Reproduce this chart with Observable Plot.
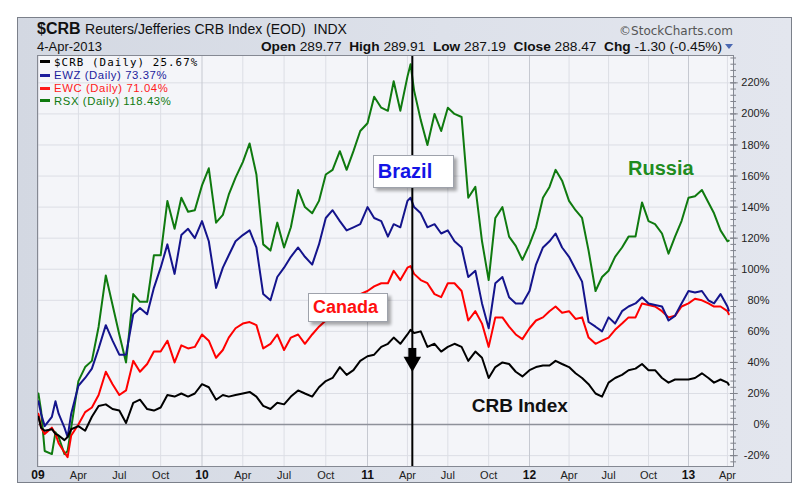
<!DOCTYPE html>
<html>
<head>
<meta charset="utf-8">
<script src="https://cdn.jsdelivr.net/npm/d3@7"></script>
<script src="https://cdn.jsdelivr.net/npm/@observablehq/plot@0.6"></script>
<style>
  html, body { margin: 0; padding: 0; background: #ffffff; }
  body { width: 806px; height: 501px; overflow: hidden; position: relative; font-family: "Liberation Sans", Arial, sans-serif; }
  #panel { position: absolute; left: 17px; top: 17px; width: 773px; height: 464px; border: 1px solid #7b808a;
           background: linear-gradient(90deg, #d3d8e2 0%, #dde1ea 55%, #e3e6ee 100%); }
  #chart { position: absolute; left: 0; top: 0; }
  .hdr { position: absolute; white-space: nowrap; color: #111; }
  .legend { position: absolute; left: 40px; top: 56.5px; }
  .legend div { height: 12.8px; line-height: 12.8px; font-size: 11.3px; letter-spacing: 0.6px; white-space: nowrap; }
  .legend .dash { display: inline-block; width: 10px; height: 3px; vertical-align: middle; margin-right: 4px; margin-top: -2px; }
  .ann { position: absolute; white-space: nowrap; font-weight: bold; font-family: "Liberation Sans", Arial, sans-serif; }
  .ann.box { box-sizing: border-box; background: #ffffff; border: 1px solid #9ea2ab; box-shadow: 3px 3px 3px rgba(0,0,0,0.32);
             display: flex; align-items: center; padding-left: 4px; }
  .tri { display: inline-block; width: 0; height: 0; border-left: 4px solid transparent; border-right: 4px solid transparent;
         border-top: 5px solid #4a68b2; margin-left: 3px; vertical-align: middle; }
</style>
</head>
<body>
<div id="panel"></div>
<div id="chart"></div>
<script>
// ---------------- DATA ----------------
const dates = [
  "2009-01-02","2009-01-08","2009-01-16","2009-02-01","2009-02-09","2009-02-16","2009-03-01","2009-03-08","2009-03-16","2009-04-01",
  "2009-04-16","2009-05-01","2009-05-16","2009-06-01","2009-06-16","2009-07-01","2009-07-16","2009-08-01","2009-08-16","2009-09-01",
  "2009-09-16","2009-10-01","2009-10-16","2009-11-01","2009-11-16","2009-12-01","2009-12-16",
  "2010-01-01","2010-01-16","2010-02-01","2010-02-16","2010-03-01","2010-03-16","2010-04-01","2010-04-16","2010-05-01","2010-05-16",
  "2010-06-01","2010-06-16","2010-07-01","2010-07-16","2010-08-01","2010-08-16","2010-09-01","2010-09-16","2010-10-01","2010-10-16",
  "2010-11-01","2010-11-16","2010-12-01","2010-12-16",
  "2011-01-01","2011-01-16","2011-02-01","2011-02-16","2011-03-01","2011-03-16","2011-04-01","2011-04-08","2011-04-16","2011-05-01",
  "2011-05-16","2011-06-01","2011-06-16","2011-07-01","2011-07-16","2011-08-01","2011-08-16","2011-09-01","2011-09-16","2011-10-01",
  "2011-10-16","2011-11-01","2011-11-16","2011-12-01","2011-12-16",
  "2012-01-01","2012-01-16","2012-02-01","2012-02-16","2012-03-01","2012-03-16","2012-04-01","2012-04-16","2012-05-01","2012-05-16",
  "2012-06-01","2012-06-16","2012-07-01","2012-07-16","2012-08-01","2012-08-16","2012-09-01","2012-09-16","2012-10-01","2012-10-16",
  "2012-11-01","2012-11-16","2012-12-01","2012-12-16",
  "2013-01-01","2013-01-16","2013-02-01","2013-02-16","2013-03-01","2013-03-16","2013-04-01","2013-04-04"
];

const crb = [
  5, -2, -4, -3, -6, -7, -10, -8, -3, -1, -4, 5, 12, 13, 10, 9, 1, 14, 16, 10, 9, 11, 19, 18, 20, 18, 20,
  26, 24, 16, 19, 18, 19, 20, 21, 18, 12, 10, 14, 13, 18, 22, 20, 18, 24, 28, 30, 37, 32, 35, 41,
  44, 45, 50, 52, 56, 52, 58, 61, 59, 60, 50, 52, 47, 50, 52, 50, 41, 47, 43, 30, 37, 40, 39, 34, 31,
  35, 37, 38, 38, 41, 39, 37, 33, 30, 26, 20, 18, 27, 30, 32, 35, 36, 39, 35, 35, 30, 27, 29, 29,
  29, 30, 33, 30, 27, 29, 27, 25.67
];
const ewz = [
  15, 7, -1, 5, 15, 7, -2, -8, 7, 25, 30, 36, 49, 64, 54, 45, 45, 71, 75, 71, 88, 101, 116, 97, 122, 126, 120,
  131, 118, 88, 101, 109, 118, 122, 125, 114, 84, 80, 95, 101, 108, 114, 108, 103, 116, 133, 138, 131, 125, 127, 129,
  140, 133, 131, 121, 129, 127, 144, 146, 140, 136, 127, 129, 123, 125, 118, 114, 95, 99, 78, 62, 91, 95, 82, 78, 78,
  86, 103, 114, 118, 123, 114, 108, 100, 92, 66, 63, 60, 69, 65, 73, 76, 78, 82, 78, 77, 76, 67, 70, 78,
  86, 85, 86, 80, 78, 84, 76, 73.37
];
const ewc = [
  7, -2, -6, -2, -6, -12, -18, -21, -7, 0, 8, 11, 19, 34, 26, 19, 22, 41, 34, 39, 47, 47, 54, 40, 51, 49, 50,
  58, 54, 43, 48, 56, 62, 65, 66, 64, 49, 52, 58, 48, 56, 58, 52, 58, 63, 67, 73, 80, 78, 82, 84,
  86, 89, 91, 91, 99, 93, 101, 102, 97, 93, 91, 84, 82, 91, 91, 86, 67, 73, 65, 50, 69, 69, 63, 58, 55,
  62, 67, 69, 73, 76, 72, 73, 68, 69, 56, 52, 54, 56, 61, 65, 69, 69, 78, 77, 76, 73, 69, 70, 76,
  78, 81, 80, 78, 76, 76, 73, 71.04
];
const rsx = [
  20, 9, -17, -19, -5, -8, -19, -17, -2, 28, 37, 41, 63, 96, 77, 58, 40, 84, 79, 79, 109, 109, 144, 126, 146, 137, 138,
  154, 165, 130, 135, 148, 159, 169, 181, 161, 116, 112, 130, 114, 127, 151, 140, 136, 144, 161, 164, 176, 164, 176, 189,
  194, 211, 204, 202, 221, 202, 224, 232, 215, 196, 180, 200, 189, 204, 200, 198, 146, 153, 118, 93, 133, 140, 121, 115, 106,
  116, 127, 146, 153, 164, 157, 144, 138, 133, 112, 86, 95, 99, 108, 114, 121, 121, 143, 131, 129, 123, 110, 121, 131,
  146, 147, 151, 143, 136, 125, 118, 118.43
];

const seriesNames = ["$CRB", "EWZ", "EWC", "RSX"];
const legendLabels = ["$CRB (Daily) 25.67%", "EWZ (Daily) 73.37%", "EWC (Daily) 71.04%", "RSX (Daily) 118.43%"];

const yTicks = [-20, 0, 20, 40, 60, 80, 100, 120, 140, 160, 180, 200, 220];
const yMinorTicks = d3.range(-24, 237, 4);
const quarterTicks = [
  "2009-01-01","2009-04-01","2009-07-01","2009-10-01","2010-01-01","2010-04-01","2010-07-01","2010-10-01",
  "2011-01-01","2011-04-01","2011-07-01","2011-10-01","2012-01-01","2012-04-01","2012-07-01","2012-10-01",
  "2013-01-01","2013-04-01"
];
const quarterLabels = ["09","Apr","Jul","Oct","10","Apr","Jul","Oct","11","Apr","Jul","Oct","12","Apr","Jul","Oct","13","Apr"];

const markerDate = "2011-04-12";
const arrowShaft = [49, 42.5];
const arrowHead = 40.4;

const annotations = [
  { text: "Brazil", date: "2011-01-14", value: 173.2, color: "#1414e6", size: 20, box: true, w: 81, h: 33 },
  { text: "Canada", date: "2010-08-24", value: 84.4, color: "#ff1010", size: 18, box: true, w: 80, h: 29 },
  { text: "Russia", date: "2012-08-16", value: 164.8, color: "#1f8c1f", size: 20, box: false },
  { text: "CRB Index", date: "2011-08-25", value: 12.2, color: "#111111", size: 19, box: false }
];

// ---------------- STYLE ----------------
const colors = { "$CRB": "#000000", "EWZ": "#14148c", "EWC": "#ff0000", "RSX": "#0f7a0f" };
const legendColors = ["#000000", "#1c1c9c", "#ff1a1a", "#0f7a0f"];

// x scale break points (piecewise, trading-day style spacing)
const xBreaks = ["2008-12-31", "2010-01-01", "2011-01-01", "2012-01-01", "2013-01-01", "2013-04-15"];
const xBreakPx = [37, 201.5, 367, 529, 688, 733];

// ---------------- BUILD ----------------
const valuesBySeries = { "$CRB": crb, "EWZ": ewz, "EWC": ewc, "RSX": rsx };
const rows = [];
for (const s of seriesNames) {
  valuesBySeries[s].forEach((v, i) => rows.push({ series: s, date: new Date(dates[i]), value: v }));
}
const drawOrder = ["RSX", "EWC", "EWZ", "$CRB"];
const qDates = quarterTicks.map(d => new Date(d));
const isYear = d => d.getUTCMonth() === 0;

const chart = Plot.plot({
  width: 806,
  height: 501,
  marginLeft: 37,
  marginRight: 73,
  marginTop: 55,
  marginBottom: 35,
  style: { background: "transparent", fontFamily: "Liberation Sans, Arial, sans-serif", overflow: "visible" },
  x: { type: "utc", domain: xBreaks.map(d => new Date(d)), range: xBreakPx, axis: null },
  y: { domain: [-27, 237.6], axis: null },
  marks: [
    Plot.frame({ fill: "#f4f5f9" }),
    Plot.ruleY(yTicks, { stroke: "#dcdee5", strokeWidth: 1 }),
    Plot.ruleX(qDates.filter(d => !isYear(d)), { stroke: "#dcdee5", strokeWidth: 1 }),
    Plot.ruleX(qDates.filter(isYear), { stroke: "#c6c9d1", strokeWidth: 1 }),
    Plot.ruleY([0], { stroke: "#8e919a", strokeWidth: 1.5 }),
    ...drawOrder.map(s => Plot.line(rows.filter(r => r.series === s), {
      x: "date", y: "value", stroke: colors[s], strokeWidth: 2, strokeLinejoin: "round"
    })),
    Plot.ruleX([new Date(markerDate)], { stroke: "#000", strokeWidth: 2 }),
    Plot.ruleX([new Date(markerDate)], { y1: arrowShaft[0], y2: arrowShaft[1], stroke: "#000", strokeWidth: 8 }),
    Plot.dot([new Date(markerDate)], { x: d => d, y: () => arrowHead, symbol: "triangle", rotate: 180, r: 6.5, fill: "#000", stroke: "none" }),
    Plot.frame({ stroke: "#858993", strokeWidth: 1 }),
    Plot.ruleY(yMinorTicks, { x1: new Date("2013-04-09"), x2: new Date("2013-04-22"), stroke: "#80838c", strokeWidth: 1 }),
    Plot.ruleY(yTicks, { x1: new Date("2013-04-08"), x2: new Date("2013-04-26"), stroke: "#80838c", strokeWidth: 1 }),
    Plot.text(yTicks, { y: d => d, text: d => `${d}%`, frameAnchor: "right", dx: 36, textAnchor: "end", fontSize: 11, fill: "#222" }),
    Plot.text(qDates.map((d, i) => ({ d, t: quarterLabels[i] })).filter(o => !isYear(o.d)),
      { x: "d", text: "t", frameAnchor: "bottom", dy: 12, fontSize: 11, fill: "#222" }),
    Plot.text(qDates.map((d, i) => ({ d, t: quarterLabels[i] })).filter(o => isYear(o.d)),
      { x: "d", text: "t", frameAnchor: "bottom", dy: 12, fontSize: 12, fontWeight: "bold", fill: "#111" })
  ]
});
document.getElementById("chart").appendChild(chart);

// ---------------- HEADER (HTML) ----------------
function addDiv(html, style) {
  const el = document.createElement("div");
  el.className = "hdr";
  el.innerHTML = html;
  Object.assign(el.style, style);
  document.body.appendChild(el);
  return el;
}
addDiv('<span style="font-weight:bold;font-size:16px">$CRB</span> <span style="font-size:14px">Reuters/Jefferies CRB Index (EOD)&nbsp; INDX</span>',
  { left: "37px", top: "21px", fontSize: "16px", lineHeight: "16px" });
addDiv("4-Apr-2013", { left: "37px", top: "40px", fontSize: "13px", lineHeight: "13px" });
addDiv('<b>Open</b> 289.77&nbsp; <b>High</b> 289.91&nbsp; <b>Low</b> 287.19&nbsp; <b>Close</b> 288.47&nbsp; <b>Chg</b> -1.30 (-0.45%)<span class="tri"></span>',
  { right: "73px", top: "39.5px", fontSize: "13.7px", lineHeight: "13.7px" });
addDiv("©StockCharts.com", { right: "73px", top: "25px", fontSize: "12px", lineHeight: "12px", fontFamily: "'DejaVu Sans', sans-serif", color: "#555" });

// legend
const legend = document.createElement("div");
legend.className = "legend";
legendLabels.forEach((lab, i) => {
  const row = document.createElement("div");
  row.style.color = legendColors[i];
  if (i === 0) { row.style.fontFamily = "'DejaVu Sans Mono', monospace"; row.style.fontSize = "10.8px"; row.style.letterSpacing = "1.1px"; }
  row.innerHTML = `<span class="dash" style="background:${legendColors[i]}"></span>${lab}`;
  legend.appendChild(row);
});
document.body.appendChild(legend);

// annotations positioned through the chart's scales
const sx = chart.scale("x"), sy = chart.scale("y");
for (const a of annotations) {
  const el = document.createElement("div");
  el.className = "ann" + (a.box ? " box" : "");
  el.textContent = a.text;
  el.style.color = a.color;
  el.style.fontSize = a.size + "px";
  const px = sx.apply(new Date(a.date)), py = sy.apply(a.value);
  el.style.left = px + "px"; el.style.top = py + "px";
  if (a.box) {
    el.style.width = a.w + "px"; el.style.height = a.h + "px";
  } else {
    el.style.lineHeight = "1"; el.style.transform = "translateY(-50%)";
  }
  document.body.appendChild(el);
}
</script>
</body>
</html>
